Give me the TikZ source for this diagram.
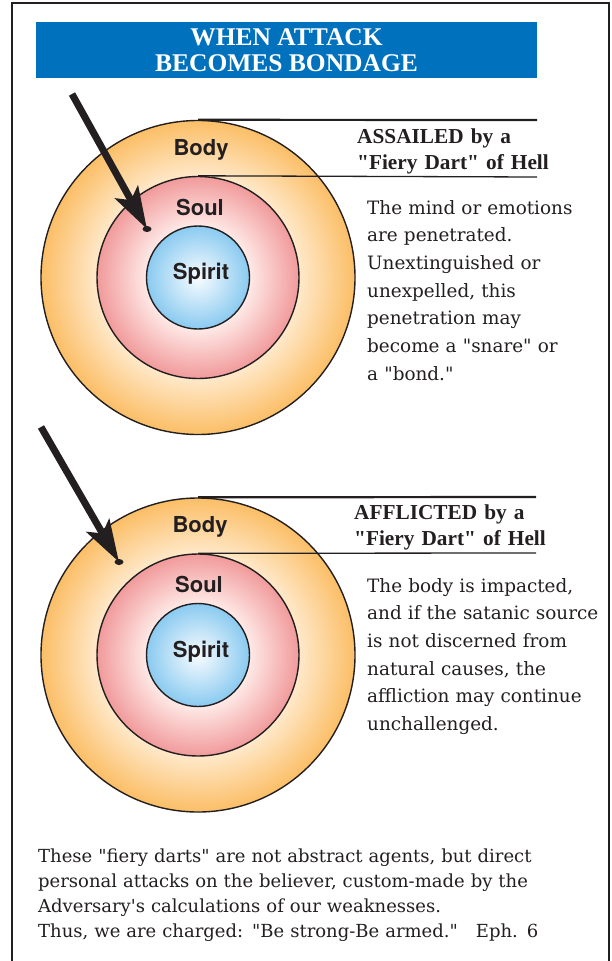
\documentclass[tikz,border=0pt]{standalone}
\usepackage{fontspec}
\setmainfont{Liberation Serif}
\newfontfamily\notefont{DejaVu Serif}
\newfontfamily\ringfont{TeX Gyre Heros}
\usetikzlibrary{arrows.meta}

\definecolor{ink}{HTML}{231F20}
\definecolor{titleblue}{HTML}{0071BC}
\definecolor{bodyin}{HTML}{FFE9CB}
\definecolor{bodyout}{HTML}{FBBE66}
\definecolor{soulin}{HTML}{FEEAE7}
\definecolor{soulout}{HTML}{F19A9B}
\definecolor{spiritin}{HTML}{F8FCFF}
\definecolor{spiritout}{HTML}{8ACAF0}

\pgfdeclareradialshading{bodyshade}{\pgfpoint{0bp}{0bp}}{color(0bp)=(bodyin); color(16bp)=(bodyin); color(25bp)=(bodyout); color(50bp)=(bodyout)}
\pgfdeclareradialshading{soulshade}{\pgfpoint{0bp}{0bp}}{color(0bp)=(white); color(12.7bp)=(soulin); color(25bp)=(soulout); color(50bp)=(soulout)}
\pgfdeclareradialshading{spiritshade}{\pgfpoint{0bp}{0bp}}{color(0bp)=(spiritin); color(25bp)=(spiritout); color(50bp)=(spiritout)}

\tikzset{
  ring/.style={circle, draw=ink, line width=1.4pt, inner sep=0pt},
  ringlabel/.style={font=\ringfont\bfseries\fontsize{22}{22}\selectfont, text=ink},
  dart/.style={ink, line width=7pt, -{Stealth[length=42pt, width=26pt, inset=9pt]}},
  heading/.style={anchor=base west, inner sep=0pt, text width=220pt, align=left,
    font=\bfseries\fontsize{21.3}{26}\selectfont, text=ink},
  notetext/.style={anchor=base west, inner sep=0pt, text width=250pt, align=left,
    font=\notefont\fontsize{18.4}{27.7}\selectfont, text=ink},
}

\begin{document}
\begin{tikzpicture}[x=1pt, y=-1pt]
  \useasboundingbox (0,0) rectangle (611,961);

  % Frame, open at the bottom
  \draw[ink, line width=1.2pt] (12,961) -- (12,3) -- (609,3) -- (609,961);

  % Title
  \node[fill=titleblue, minimum width=501pt, minimum height=56pt, inner sep=0pt,
    text=white, align=center, font=\bfseries\fontsize{25.5}{26}\selectfont] (title) at (286.5,50)
    {WHEN ATTACK\\BECOMES BONDAGE};

  % First set of rings
  \node[ring, minimum size=314pt, shading=bodyshade] (body1) at (198,277.5) {};
  \node[ring, minimum size=202pt, shading=soulshade] (soul1) at (198,277.5) {};
  \node[ring, minimum size=103pt, shading=spiritshade] (spirit1) at (198,277.5) {};
  \node[ringlabel] (bodylbl1) at (201,150) {Body};
  \node[ringlabel] (soullbl1) at (200,207) {Soul};
  \node[ringlabel] (spiritlbl1) at (201,274) {Spirit};

  \coordinate (rule1a) at (537,120);
  \coordinate (rule1b) at (537,177);
  \draw[ink, line width=2.2pt] (body1.north) -- (rule1a);
  \draw[ink, line width=1.3pt] (soul1.north) -- (rule1b);

  % Dart into the soul
  \coordinate (tail1) at (72,94);
  \coordinate (tip1) at (147,229);
  \draw[dart] (tail1) -- (tip1);
  \fill[ink] (tip1) ellipse [x radius=4.5pt, y radius=3pt];

  \node[heading] (head1) at (357,143) {ASSAILED by a\\\textquotedbl Fiery Dart\textquotedbl{} of Hell};
  \node[notetext] (note1) at (367,214) {The mind or emotions\\are penetrated.\\Unextinguished or\\unexpelled, this\\penetration may\\become a "snare" or\\a "bond."};

  % Second set of rings
  \node[ring, minimum size=314pt, shading=bodyshade] (body2) at (198,655) {};
  \node[ring, minimum size=202pt, shading=soulshade] (soul2) at (198,655) {};
  \node[ring, minimum size=103pt, shading=spiritshade] (spirit2) at (198,655) {};
  \node[ringlabel] (bodylbl2) at (200,527) {Body};
  \node[ringlabel] (soullbl2) at (199,584) {Soul};
  \node[ringlabel] (spiritlbl2) at (201,652) {Spirit};

  \coordinate (rule2a) at (536,497);
  \coordinate (rule2b) at (536,553);
  \draw[ink, line width=2.2pt] (body2.north) -- (rule2a);
  \draw[ink, line width=1.3pt] (soul2.north) -- (rule2b);

  % Dart into the body
  \coordinate (tail2) at (41,427);
  \coordinate (tip2) at (119,562);
  \draw[dart] (tail2) -- (tip2);
  \fill[ink] (tip2) ellipse [x radius=4.5pt, y radius=3pt];

  \node[heading] (head2) at (354,519) {AFFLICTED by a\\\textquotedbl Fiery Dart\textquotedbl{} of Hell};
  \node[notetext] (note2) at (367,592) {The body is impacted,\\and if the satanic source\\is not discerned from\\natural causes, the\\affliction may continue\\unchallenged.};

  % Closing text
  \node[notetext, text width=560pt, font=\notefont\fontsize{18}{25}\selectfont] (summary) at (38,862)
    {These "fiery darts" are not abstract agents, but direct\\personal attacks on the believer, custom-made by the\\Adversary\textquotesingle s calculations of our weaknesses.\\Thus, we are charged: "Be strong-Be armed."\ \ \ Eph. 6};
\end{tikzpicture}
\end{document}
